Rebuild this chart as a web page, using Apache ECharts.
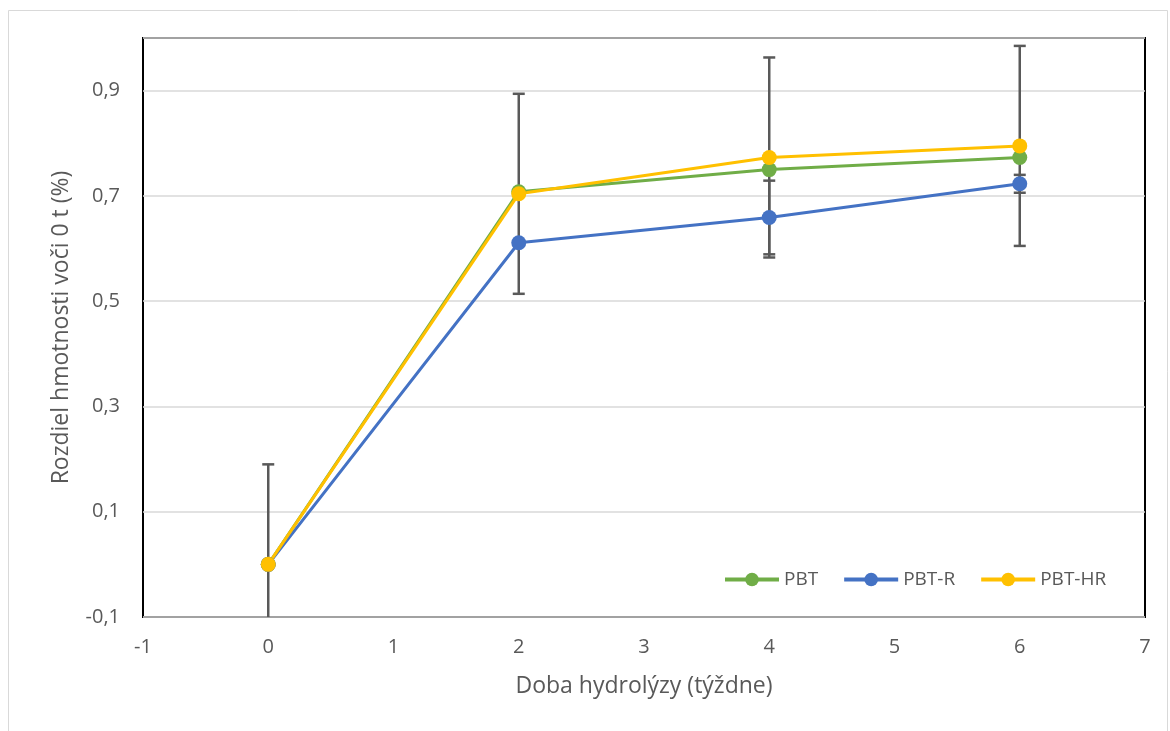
<!DOCTYPE html>
<html>
<head>
<meta charset="utf-8">
<script src="https://cdn.jsdelivr.net/npm/echarts@6/dist/echarts.min.js"></script>
<style>
  html, body { margin: 0; padding: 0; background: #fff; }
  #chart { width: 1170px; height: 731px; }
</style>
</head>
<body>
<div id="chart"></div>
<script>
// Sampling times (weeks of hydrolysis)
const weeks = [0, 2, 4, 6];

// Mass difference relative to t = 0 (%)
const pbt   = [0.0, 0.708, 0.750, 0.773];
const pbtR  = [0.0, 0.611, 0.659, 0.723];
const pbtHR = [0.0, 0.704, 0.773, 0.795];

// Error bar half-widths
const pbtRErr  = [0, 0, 0.07, 0.017];
const pbtHRErr = [0.19, 0.19, 0.19, 0.19];

const GREEN = '#70ad47', BLUE = '#4472c4', YELLOW = '#ffc000';
const TEXT = '#595959';
const FONT = '"Open Sans", "Liberation Sans", sans-serif';

const pairs = vals => weeks.map((w, i) => [w, vals[i]]);
const errData = (vals, errs) => weeks.map((w, i) => [w, vals[i] - errs[i], vals[i] + errs[i]]);

function errorBar(params, api) {
  const x = api.value(0);
  const lo = api.coord([x, api.value(1)]);
  const hi = api.coord([x, api.value(2)]);
  const half = 6;
  const style = { stroke: TEXT, lineWidth: 2.5 };
  return {
    type: 'group',
    children: [
      { type: 'line', shape: { x1: lo[0], y1: lo[1], x2: hi[0], y2: hi[1] }, style },
      { type: 'line', shape: { x1: hi[0] - half, y1: hi[1], x2: hi[0] + half, y2: hi[1] }, style },
      { type: 'line', shape: { x1: lo[0] - half, y1: lo[1], x2: lo[0] + half, y2: lo[1] }, style }
    ]
  };
}

const lineSeries = (name, vals, color) => ({
  name, type: 'line', data: pairs(vals), z: 5,
  symbol: 'circle', symbolSize: 15,
  lineStyle: { color, width: 3 },
  itemStyle: { color },
  emphasis: { disabled: true }
});

const chart = echarts.init(document.getElementById('chart'), null, { renderer: 'canvas' });
chart.setOption({
  animation: false,
  backgroundColor: '#fff',
  textStyle: { fontFamily: FONT },
  graphic: [{
    type: 'rect', z: -10, silent: true,
    shape: { x: 8.5, y: 10.5, width: 1159, height: 730 },
    style: { fill: 'none', stroke: '#d9d9d9', lineWidth: 1 }
  }],
  grid: { left: 143, top: 38, right: 25, bottom: 114, show: true, borderColor: '#000', borderWidth: 2, backgroundColor: 'transparent' },
  legend: {
    left: 718, top: 565,
    itemWidth: 54, itemHeight: 17, itemGap: 24,
    lineStyle: { width: 4 },
    textStyle: { color: TEXT, fontSize: 19, fontFamily: FONT },
    data: ['PBT', 'PBT-R', 'PBT-HR']
  },
  xAxis: {
    type: 'value', min: -1, max: 7, interval: 1,
    name: 'Doba hydrolýzy (týždne)', nameLocation: 'middle', nameGap: 58,
    nameTextStyle: { color: TEXT, fontSize: 23, fontFamily: FONT },
    axisLine: { show: false }, axisTick: { show: false },
    splitLine: { show: false },
    axisLabel: { color: TEXT, fontSize: 20, margin: 20, fontFamily: FONT }
  },
  yAxis: {
    type: 'value', min: -0.1, max: 1.0, interval: 0.2,
    name: 'Rozdiel hmotnosti voči 0 t (%)', nameLocation: 'middle', nameGap: 70,
    nameTextStyle: { color: TEXT, fontSize: 23, fontFamily: FONT },
    axisLine: { show: false }, axisTick: { show: false },
    splitLine: { lineStyle: { color: '#d9d9d9', width: 1.5 } },
    axisLabel: {
      color: TEXT, fontSize: 20, margin: 23, fontFamily: FONT,
      formatter: v => (Math.abs(v - 1.0) < 1e-6 ? '' : (Math.round(v * 10) / 10).toFixed(1).replace('.', ','))
    }
  },
  series: [
    { name: 'errHR', type: 'custom', renderItem: errorBar, data: errData(pbtHR, pbtHRErr), clip: true, z: 2, silent: true, encode: { x: 0, y: [1, 2] } },
    { name: 'errR', type: 'custom', renderItem: errorBar, data: errData(pbtR, pbtRErr).filter((d, i) => pbtRErr[i] > 0), clip: true, z: 2, silent: true, encode: { x: 0, y: [1, 2] } },
    lineSeries('PBT', pbt, GREEN),
    lineSeries('PBT-R', pbtR, BLUE),
    lineSeries('PBT-HR', pbtHR, YELLOW)
  ]
});
</script>
</body>
</html>
